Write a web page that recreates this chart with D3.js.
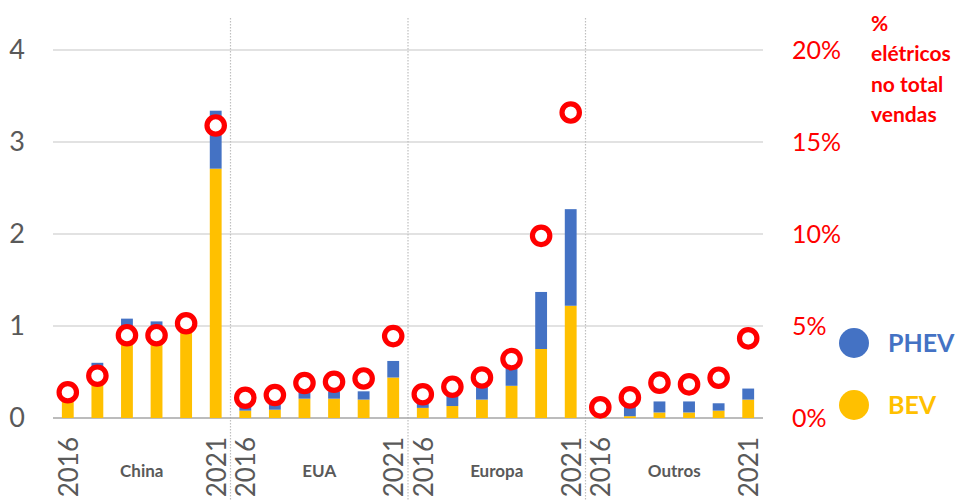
<!DOCTYPE html>
<html><head><meta charset="utf-8">
<script src="https://cdn.jsdelivr.net/npm/d3@7"></script>
<style>
body{margin:0;background:#fff;}
svg{display:block;font-family:Lato,"Open Sans",sans-serif;}
</style></head>
<body><svg id="c" width="964" height="500"></svg>
<script>
const regions = ["China","EUA","Europa","Outros"];
const years = ["2016","2017","2018","2019","2020","2021"];
const bev = [
  [0.26,0.47,0.83,0.83,0.93,2.71],
  [0.08,0.09,0.21,0.21,0.20,0.44],
  [0.11,0.13,0.20,0.35,0.75,1.22],
  [0.03,0.02,0.06,0.06,0.08,0.20]
];
const phev = [
  [0.08,0.13,0.25,0.22,0.20,0.63],
  [0.08,0.10,0.10,0.08,0.09,0.18],
  [0.10,0.11,0.16,0.22,0.62,1.05],
  [0.03,0.10,0.12,0.12,0.08,0.12]
];
const share = [
  [0.014,0.023,0.045,0.045,0.0515,0.159],
  [0.011,0.0125,0.019,0.0197,0.0215,0.0445],
  [0.0129,0.017,0.022,0.032,0.099,0.166],
  [0.0058,0.0112,0.0192,0.0183,0.0219,0.0433]
];
const leftTicks = [0,1,2,3,4];
const rightTicks = [0,0.05,0.10,0.15,0.20];
const shownYears = ["2016","2021"];
const legendTitle = ["%","elétricos","no total","vendas"];
const seriesNames = ["PHEV","BEV"];

const colBEV = "#FFC000", colPHEV = "#4472C4", red = "#FF0000";
const FONT = 'Lato,"Open Sans",sans-serif';
const svg = d3.select("#c");
const L = 53, R = 763, T = 50, B = 418;

const rows = [];
regions.forEach((r,ri)=>years.forEach((y,yi)=>rows.push({
  key: ri*6+yi, region:r, year:y, bev:bev[ri][yi], phev:phev[ri][yi], share:share[ri][yi]
})));

const x = d3.scaleBand().domain(rows.map(d=>d.key)).range([L,R]).paddingInner(0.6).paddingOuter(0.3);
const y = d3.scaleLinear().domain([0,4]).range([B,T]);
const y2 = d3.scaleLinear().domain([0,0.2]).range([B,T]);

// gridlines
svg.append("g").selectAll("line").data(leftTicks.filter(d=>d>0)).join("line")
  .attr("x1",L).attr("x2",R).attr("y1",d=>y(d)).attr("y2",d=>y(d))
  .attr("stroke","#d9d9d9").attr("stroke-width",1.3);

// group separators
const step = x.step();
svg.append("g").selectAll("line").data([1,2,3]).join("line")
  .attr("x1",d=>L+step*6*d).attr("x2",d=>L+step*6*d).attr("y1",18).attr("y2",500)
  .attr("stroke","#bfbfbf").attr("stroke-width",1.2).attr("stroke-dasharray","1.5,1.5");

// baseline
svg.append("line").attr("x1",L).attr("x2",R).attr("y1",y(0)).attr("y2",y(0))
  .attr("stroke","#a6a6a6").attr("stroke-width",1.5);

// stacked bars
const stack = d3.stack().keys(["bev","phev"])(rows);
const colors = {bev:colBEV, phev:colPHEV};
svg.append("g").selectAll("g").data(stack).join("g").attr("fill",s=>colors[s.key])
  .selectAll("rect").data(s=>s).join("rect")
  .attr("x",d=>x(d.data.key)).attr("width",x.bandwidth())
  .attr("y",d=>y(d[1])).attr("height",d=>y(d[0])-y(d[1]));

// share markers
svg.append("g").selectAll("circle").data(rows).join("circle")
  .attr("cx",d=>x(d.key)+x.bandwidth()/2).attr("cy",d=>y2(d.share))
  .attr("r",8.7).attr("fill","#fff").attr("stroke",red).attr("stroke-width",5.2);

// left axis
const ga = svg.append("g").attr("transform",`translate(${L},0)`)
  .call(d3.axisLeft(y).tickValues(leftTicks).tickSize(0).tickPadding(28).tickFormat(d3.format("d")));
ga.select(".domain").remove();
ga.selectAll("text").attr("font-size",27).attr("fill","#595959").attr("font-family",FONT).attr("dy","0.3em");

// right axis
const gb = svg.append("g").attr("transform",`translate(${R},0)`)
  .call(d3.axisRight(y2).tickValues(rightTicks).tickSize(0).tickPadding(29).tickFormat(d3.format(".0%")));
gb.select(".domain").remove();
gb.selectAll("text").attr("font-size",25).attr("fill",red).attr("font-family",FONT);

// year labels (rotated)
svg.append("g").selectAll("text").data(rows.filter(d=>shownYears.includes(d.year))).join("text")
  .attr("transform",d=>`translate(${x(d.key)+x.bandwidth()/2+10},437) rotate(-90)`)
  .attr("text-anchor","end").attr("font-size",26).attr("fill","#595959").text(d=>d.year);

// region labels
svg.append("g").selectAll("text").data(regions).join("text")
  .attr("x",(d,i)=>L+step*6*i+step*3).attr("y",477).attr("text-anchor","middle")
  .attr("font-size",17).attr("font-weight","bold").attr("fill","#595959").text(d=>d);

// legend title
svg.append("g").selectAll("text").data(legendTitle).join("text")
  .attr("x",871).attr("y",(d,i)=>30.5+i*30.5)
  .attr("font-size",21).attr("font-weight","bold").attr("fill",red).text(d=>d);

// legend
const leg = svg.append("g").selectAll("g").data(seriesNames).join("g")
  .attr("transform",(d,i)=>`translate(854,${343+i*62})`);
leg.append("circle").attr("r",15).attr("fill",d=>d==="PHEV"?colPHEV:colBEV);
leg.append("text").attr("x",34).attr("y",9).attr("font-size",25).attr("font-weight","bold")
  .attr("fill",d=>d==="PHEV"?colPHEV:colBEV).text(d=>d);
</script></body></html>
